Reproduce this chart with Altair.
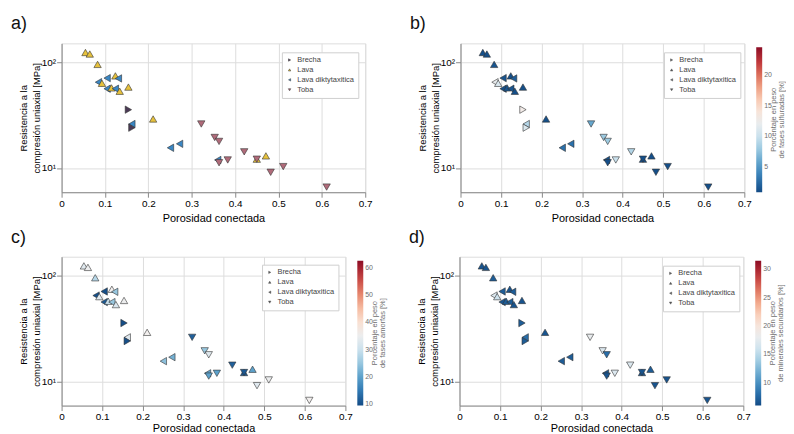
import altair as alt
import pandas as pd

# ---------------- data ----------------
porosidad = [0.055, 0.065, 0.083, 0.085, 0.093, 0.105, 0.124, 0.131, 0.105, 0.115,
             0.124, 0.134, 0.154, 0.154, 0.162, 0.162, 0.211, 0.322, 0.353, 0.363,
             0.272, 0.251, 0.421, 0.471, 0.450, 0.450, 0.360, 0.363, 0.383, 0.511,
             0.482, 0.611]
resistencia = [123, 119, 95, 64.5, 63, 70.5, 74, 70, 56, 57,
               56, 53, 58, 35.5, 26, 24, 29, 26, 19.4, 17.8,
               16.9, 15.5, 14.2, 13.0, 12.1, 12.1, 11.9, 11.2, 11.9, 10.3,
               9.1, 6.6]
tipo = ["Lava", "Lava", "Lava", "Lava diktytaxitica", "Lava", "Lava diktytaxitica", "Lava",
        "Lava diktytaxitica", "Lava diktytaxitica", "Lava", "Lava diktytaxitica", "Lava", "Lava",
        "Brecha", "Lava diktytaxitica", "Brecha", "Lava", "Toba", "Toba", "Toba",
        "Lava diktytaxitica", "Lava diktytaxitica", "Toba", "Lava", "Lava", "Toba",
        "Lava diktytaxitica", "Toba", "Toba", "Toba", "Toba", "Toba"]
sulfuros = [1.2, 1.2, 1.5, 12, 11, 1.5, 1.2, 2, 1.2, 1.5,
            1.5, 1.2, 1.2, 13, 9, 11, 1.2, 6, 8, 8,
            3, 3, 9, 1.2, 1.2, 1.2, 1.2, 1.2, 10, 1.2,
            1.2, 1.2]
amorfas = [33, 35, 28, 10, 33, 9.8, 36, 25, 11, 30,
           25, 32, 35, 9.8, 33, 10, 36, 12, 25, 33,
           22, 24, 12, 20, 11, 11, 20, 20, 20, 35,
           33, 36]
secundarios = [6.5, 6.5, 7, 17, 16, 7, 6.5, 7, 6.5, 7,
               7, 6.5, 6.5, 7, 8, 7, 6.5, 18, 17, 8,
               7, 7, 17, 7, 6.5, 6.5, 6.5, 6.5, 17, 6.5,
               6.5, 6.5]

tipos = ["Brecha", "Lava", "Lava diktytaxitica", "Toba"]
formas = ["triangle-right", "triangle-up", "triangle-left", "triangle-down"]
colores_tipo = ["#4b3a55", "#e6c13c", "#3a87c4", "#b06b7a"]
x_ticks = [0, 0.1, 0.2, 0.3, 0.4, 0.5, 0.6, 0.7]

df = pd.DataFrame(dict(por=porosidad, ucs=resistencia, tipo=tipo,
                       sulf=sulfuros, amor=amorfas, sec=secundarios))
one = pd.DataFrame({"k": [0]})

FONT = "Liberation Sans"
GREY = "#6e6e6e"
H = 150
CBX = 298          # colorbar left, relative to plot-area left
CBLEN = 146


def shape_legend(lx, ly):
    return alt.Legend(title=None, orient="none", legendX=lx, legendY=ly,
                      symbolSize=6, symbolStrokeWidth=0.5,
                      strokeColor="#d0d0d0", fillColor="white",
                      padding=4, labelFontSize=7.5, labelColor="#444",
                      rowPadding=1, labelFont=FONT)


def panel(label, width, color, lx, ly, cb_title=None, xtp=4):
    x = alt.X("por:Q",
              scale=alt.Scale(domain=[0, 0.7], nice=False, zero=False),
              axis=alt.Axis(values=x_ticks, format="~g", title="Porosidad conectada",
                            titlePadding=xtp, labelPadding=1, labelFlush=False,
                            titleFontWeight=400))
    y = alt.Y("ucs:Q",
              scale=alt.Scale(type="log", domain=[5.9, 150], nice=False),
              axis=alt.Axis(values=[10, 100],
                            labelExpr="datum.value == 100 ? '10²' : '10¹'",
                            title=["Resistencia a la", "compresión uniaxial [MPa]"],
                            titlePadding=0, labelPadding=1, labelFlush=False,
                            titleFontWeight=400, titleFontSize=9.5, titleLineHeight=13))
    leg = shape_legend(lx, ly)
    if cb_title is not None:
        leg = alt.Legend(title=None, orient="none", legendX=lx, legendY=ly,
                         symbolSize=6, symbolFillColor="#555", symbolStrokeColor="#555",
                         symbolStrokeWidth=0.5, strokeColor="#d0d0d0", fillColor="white",
                         padding=4, labelFontSize=7.5, labelColor="#444",
                         rowPadding=1, labelFont=FONT)
    shape = alt.Shape("tipo:N", scale=alt.Scale(domain=tipos, range=formas), legend=leg)
    pts = alt.Chart(df).mark_point(filled=True, size=55, stroke="#333",
                                   strokeWidth=0.6, opacity=1).encode(
        x=x, y=y, shape=shape, color=color
    )
    layers = [pts]
    if cb_title is not None:
        for i, t in enumerate(["Porcentaje en peso", cb_title]):
            layers.append(
                alt.Chart(one).mark_text(angle=270, fontSize=7.5, color=GREY, font=FONT,
                                         align="center", baseline="middle").encode(
                    x=alt.value(CBX + 18 + 7.5 * i), y=alt.value(4 + CBLEN / 2),
                    text=alt.value(t))
            )
    return alt.layer(*layers).properties(
        width=width, height=H,
        title=alt.TitleParams(label, anchor="start", frame="group", fontSize=18,
                              fontWeight="normal", color="#111", dx=-51, offset=10,
                              font=FONT)
    )


def cbar(field, dom, ticks):
    return alt.Color(f"{field}:Q",
                     scale=alt.Scale(scheme="redblue", reverse=True, domain=dom, nice=False),
                     legend=alt.Legend(title=None, orient="none", legendX=CBX, legendY=4,
                                       direction="vertical",
                                       gradientLength=CBLEN, gradientThickness=6,
                                       gradientStrokeWidth=0, values=ticks,
                                       labelFontSize=7, labelColor=GREY, labelFont=FONT,
                                       padding=0))


pa = panel("a)", 306,
           alt.Color("tipo:N", scale=alt.Scale(domain=tipos, range=colores_tipo),
                     legend=shape_legend(222, 9)),
           222, 9)
pb = panel("b)", 286, cbar("sulf", [1, 24.4], [5, 10, 15, 20]), 205, 9,
           "de fases sulfuradas [%]")
pc = panel("c)", 286, cbar("amor", [9.5, 62.5], [10, 20, 30, 40, 50, 60]), 202, 8,
           "de fases amorfas [%]", xtp=1)
pd_ = panel("d)", 286, cbar("sec", [6, 31.5], [10, 15, 20, 25, 30]), 205, 9,
            "de minerales secundarios [%]", xtp=1)

top = alt.hconcat(pa, pb, spacing=36).resolve_scale(color="independent", shape="independent")
bottom = alt.hconcat(pc, pd_, spacing=21).resolve_scale(color="independent", shape="independent")

chart = alt.vconcat(top, bottom, spacing=4).resolve_scale(
    color="independent", shape="independent"
).properties(
    padding={"left": 2, "top": 5, "right": 0, "bottom": 0}
).configure_view(stroke=None).configure_axis(
    grid=False, domainColor="#b8b8b8", tickColor="#b8b8b8", tickSize=3,
    labelColor=GREY, labelFontSize=7.5, labelFont=FONT,
    titleColor=GREY, titleFontSize=9, titleFont=FONT, titleFontWeight="normal"
).configure(font=FONT)

chart.save("out.html", embed_options={"renderer": "svg", "actions": False})
